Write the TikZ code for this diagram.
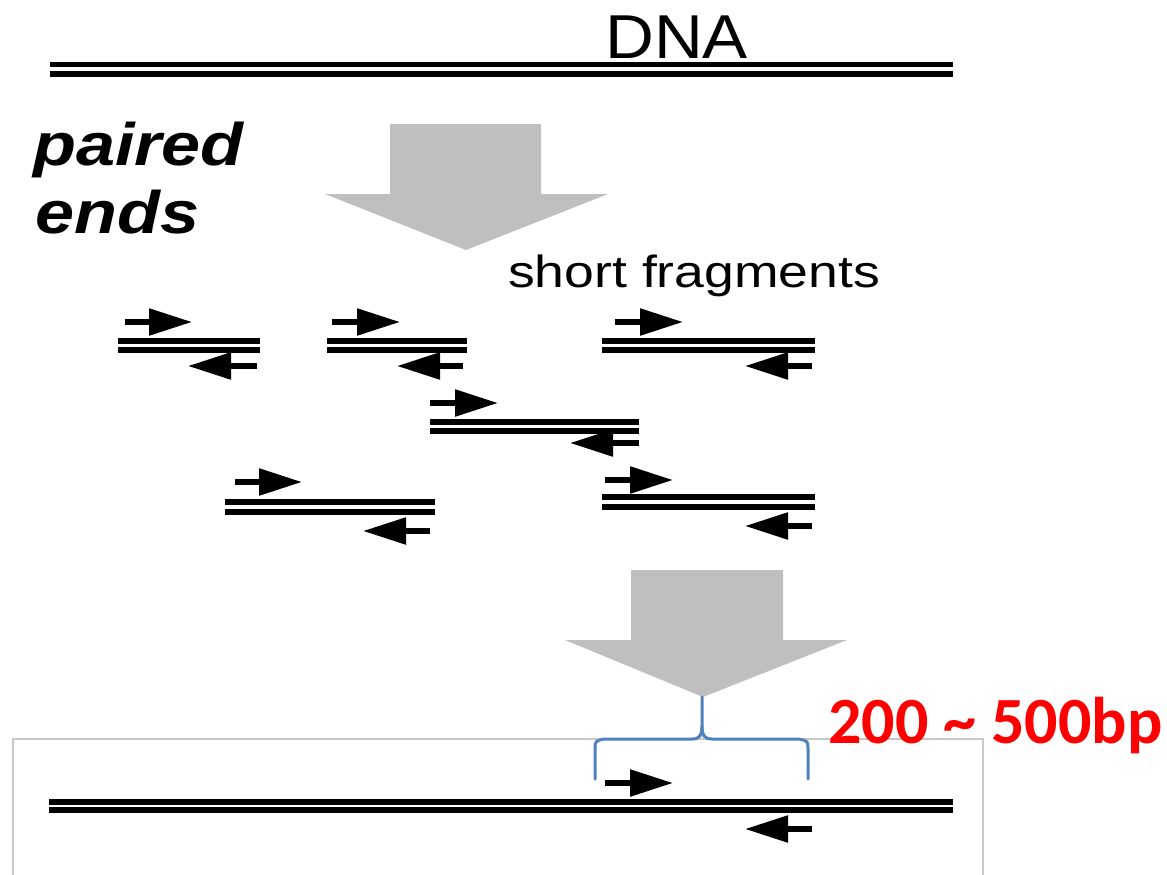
\documentclass[tikz,border=0pt]{standalone}
\usepackage{fontspec}
\setmainfont{Liberation Sans}
\newfontfamily\calib{Carlito}
\usetikzlibrary{arrows.meta}
\definecolor{arrowgray}{HTML}{BFBFBF}
\definecolor{boxgray}{HTML}{C8C8C8}
\definecolor{bracecol}{HTML}{4F81BD}
\definecolor{bpred}{HTML}{FF0000}
\begin{document}
\begin{tikzpicture}[x=1pt,y=-1pt,
  strand/.style={line width=5.5pt},
  readarrow/.style={line width=5.5pt,-{Triangle[length=43pt,width=26pt]}},
  bigarrow/.style={fill=arrowgray,draw=none},
  lbl/.style={inner sep=0pt,anchor=base west},
  framebox/.style={draw=boxgray,line width=2.2pt},
  bracestyle/.style={draw=bracecol,line width=3pt,line cap=round},
]
\useasboundingbox (0,0) rectangle (1167,875);
\fill[white] (0,0) rectangle (1167,875);

% top DNA
\coordinate (d1l) at (50,64.5);  \coordinate (d1r) at (953,64.5);
\coordinate (d2l) at (50,74);  \coordinate (d2r) at (953,74);
\draw[strand] (d1l) -- (d1r);
\draw[strand] (d2l) -- (d2r);
\node[lbl] (dna) at (605,59) {\fontsize{62}{62}\selectfont\scalebox{1.09}[1]{DNA}};

% labels
\node[lbl] (pe1) at (33,165) {\fontsize{60}{60}\selectfont\bfseries\itshape\scalebox{1.17}[1]{paired}};
\node[lbl] (pe2) at (35,233) {\fontsize{60}{60}\selectfont\bfseries\itshape\scalebox{1.17}[1]{ends}};
\node[lbl] (sf) at (508,287) {\fontsize{45}{45}\selectfont\scalebox{1.19}[1]{short fragments}};

% big arrow 1
\fill[bigarrow] (390,124) -- (541,124) -- (541,194) -- (608,194) -- (466,250) -- (325,194) -- (390,194) -- cycle;
% big arrow 2
\fill[bigarrow] (631,570) -- (783,570) -- (783,640) -- (847,640) -- (703,697) -- (565,640) -- (631,640) -- cycle;

% fragments: id / left / right / y1 / y2 / fwd y / fwd start / fwd tip / rev y / rev start / rev tip
\foreach \i/\xl/\xr/\ya/\yb/\fy/\fs/\ft/\ry/\rs/\rt in {
  1/118/260/341/350/322/125/192/366/257/188,
  2/327/467/341/350/322/332/400/366/463/397,
  3/602/815/341/350/322/615/683/366/812/745,
  4/430/639/422/431/403/430/498/443/639/570,
  5/225/435/502/512/482/235/302/531/430/363,
  6/602/815/497/507/480/605/673/526/812/745,
  7/49/953/802/810/783/605/673/829/812/745}{
  \coordinate (f\i a1) at (\xl,\ya); \coordinate (f\i a2) at (\xr,\ya);
  \coordinate (f\i b1) at (\xl,\yb); \coordinate (f\i b2) at (\xr,\yb);
  \coordinate (f\i fs) at (\fs,\fy); \coordinate (f\i ft) at (\ft,\fy);
  \coordinate (f\i rs) at (\rs,\ry); \coordinate (f\i rt) at (\rt,\ry);
  \draw[strand] (f\i a1) -- (f\i a2);
  \draw[strand] (f\i b1) -- (f\i b2);
  \draw[readarrow] (f\i fs) -- (f\i ft);
  \draw[readarrow] (f\i rs) -- (f\i rt);
}

% frame at the bottom
\coordinate (bx1) at (13,880); \coordinate (bx2) at (13,739);
\coordinate (bx3) at (983,739); \coordinate (bx4) at (983,880);
\draw[framebox] (bx1) -- (bx2) -- (bx3) -- (bx4);

% brace
\coordinate (brl) at (595,779);
\coordinate (brr) at (808,779);
\coordinate (brc) at (702,697);
\draw[bracestyle] (brl) -- (595,750) .. controls (595,741) .. (604,739)
  -- (692,739) .. controls (700,739) and (702,735) .. (702,726) -- (brc);
\draw[bracestyle] (brr) -- (808,750) .. controls (808,741) .. (799,739)
  -- (712,739) .. controls (704,739) and (702,735) .. (702,726);

\node[lbl,text=bpred] (bp) at (828,743) {\calib\bfseries\fontsize{66}{66}\selectfont 200 \textasciitilde{} 500bp};
\end{tikzpicture}
\end{document}
